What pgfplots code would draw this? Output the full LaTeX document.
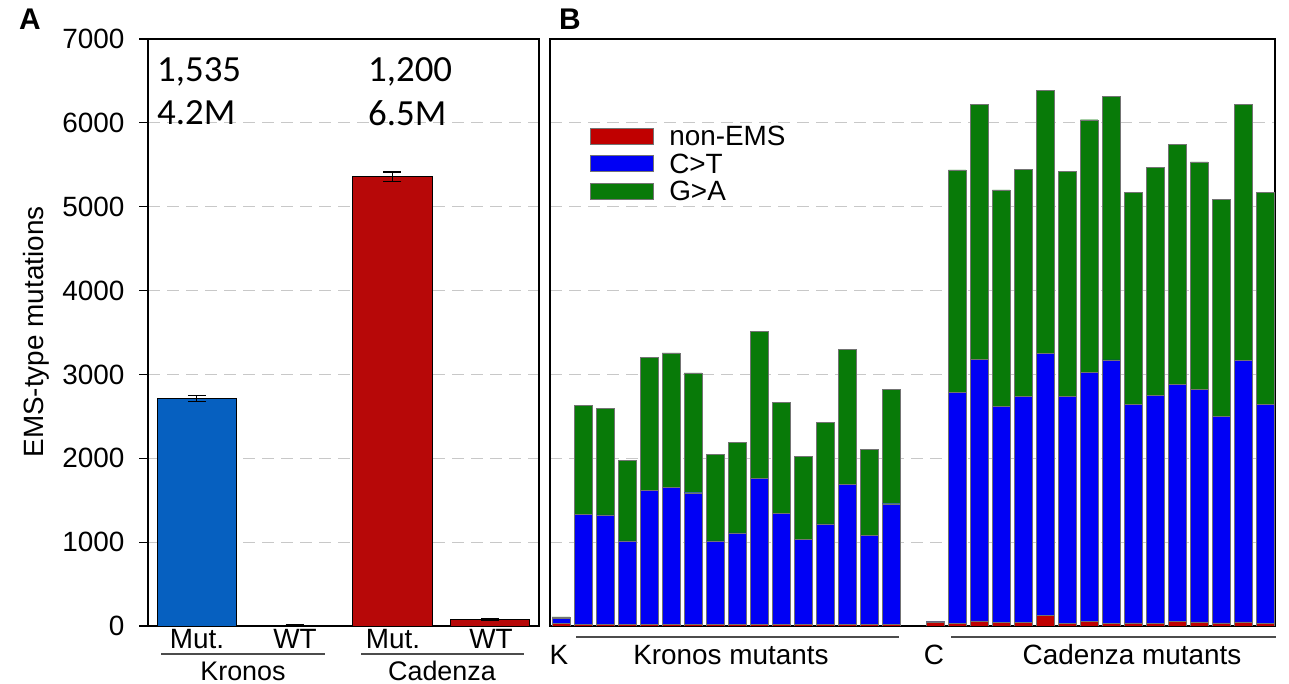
\documentclass[border=0pt]{standalone}
\usepackage{fontspec}
\setmainfont{Liberation Sans}
\newfontfamily\calib{Carlito}
\usepackage{pgfplots}
\pgfplotsset{compat=1.18}
\usepackage{pgfplotstable}

\definecolor{kblue}{RGB}{6,96,192}
\definecolor{cred}{RGB}{183,8,8}
\definecolor{bred}{RGB}{192,0,0}
\definecolor{bblue}{RGB}{0,0,245}
\definecolor{bgreen}{RGB}{8,122,8}
\definecolor{gridgray}{RGB}{200,200,200}

\pgfplotstableread{
x nonems ct ga
0 30 57 23
1 20 1314 1294
2 20 1306 1271
3 20 996 959
4 20 1601 1581
5 20 1633 1605
6 20 1569 1430
7 20 996 1035
8 20 1091 1083
9 20 1740 1753
10 20 1326 1322
11 20 1015 984
12 20 1199 1210
13 20 1673 1604
14 20 1059 1028
15 20 1438 1362
17 40 10 6
18 28 2759 2653
19 60 3118 3043
20 40 2580 2581
21 40 2696 2708
22 123 3127 3134
23 28 2708 2685
24 52 2971 3014
25 28 3146 3146
26 36 2604 2530
27 28 2720 2724
28 52 2827 2868
29 48 2772 2715
30 36 2461 2589
31 48 3118 3055
32 28 2612 2533
}\panelB

\pgfplotsset{
  ebar/.style={error bars/.cd, y dir=both, y explicit,
    error bar style={line width=1.2bp, black},
    error mark options={rotate=90, mark size=9bp, line width=1.2bp, black}},
}

\begin{document}
\begin{tikzpicture}[x=1bp,y=1bp]
\path[use as bounding box] (0,0) rectangle (1289,684);

\begin{axis}[
  at={(148bp,58bp)}, anchor=south west,
  scale only axis, width=391bp, height=587bp,
  xmin=-0.5, xmax=3.5, ymin=0, ymax=7000,
  xtick=\empty,
  ytick={0,1000,2000,3000,4000,5000,6000,7000},
  yticklabels={0,1000,2000,3000,4000,5000,6000,7000},
  ytick pos=left, tick align=outside, major tick length=9bp,
  ymajorgrids,
  major grid style={dash pattern=on 12bp off 7bp, gridgray, line width=1.2bp},
  axis line style={line width=1.5bp},
  tick style={line width=1.2bp, black},
  yticklabel style={font=\fontsize{28}{32}\selectfont, xshift=-11bp},
  clip=false,
]
\addplot[ybar, bar width=0.81, bar shift=0pt, fill=kblue, draw=black, line width=0.8bp, ebar]
  coordinates {(0,2712) +- (0,35)};
\addplot[ybar, bar width=0.81, bar shift=0pt, fill=black, draw=black, line width=0.8bp, ebar]
  coordinates {(1,12) +- (0,5)};
\addplot[ybar, bar width=0.81, bar shift=0pt, fill=cred, draw=black, line width=0.8bp, ebar]
  coordinates {(2,5360) +- (0,55)};
\addplot[ybar, bar width=0.81, bar shift=0pt, fill=cred, draw=black, line width=0.8bp, ebar]
  coordinates {(3,78) +- (0,12)};
\end{axis}

\begin{axis}[
  at={(550bp,58bp)}, anchor=south west,
  scale only axis, width=725bp, height=587bp,
  xmin=-0.5, xmax=32.45, ymin=0, ymax=7000,
  ybar stacked, bar width=0.8,
  xtick=\empty,
  ytick={1000,2000,3000,4000,5000,6000},
  yticklabels={},
  major tick length=0pt,
  ymajorgrids,
  major grid style={dash pattern=on 12bp off 7bp, gridgray, line width=1.2bp},
  axis line style={line width=1.5bp},
  legend style={draw=none, fill=none, at={(0.055,0.852)}, anchor=north west,
    inner sep=0pt, outer sep=0pt,
    font=\fontsize{28}{30}\selectfont, row sep=7.5bp,
    nodes={inner sep=0pt, text height=20bp, text depth=0bp, anchor=west}},
  legend cell align=left,
  legend image code/.code={\fill[#1] (0bp,-8bp) rectangle (63bp,8bp);},
]
\addplot[fill=bred, draw=black!55, line width=0.4bp] table[x=x, y=nonems] {\panelB};
\addlegendentry{\hspace{16bp}non-EMS}
\addplot[fill=bblue, draw=black!55, line width=0.4bp] table[x=x, y=ct] {\panelB};
\addlegendentry{\hspace{16bp}C>T}
\addplot[fill=bgreen, draw=black!55, line width=0.4bp] table[x=x, y=ga] {\panelB};
\addlegendentry{\hspace{16bp}G>A}
\end{axis}

% panel letters
\node[font=\bfseries\fontsize{30}{34}\selectfont] at (30,665) {A};
\node[font=\bfseries\fontsize{30}{34}\selectfont] at (570,665) {B};

% y label
\node[rotate=90, font=\fontsize{28}{32}\selectfont] at (36,352) {EMS-type mutations};

% annotations panel A
\node[anchor=west, inner sep=0pt, font=\calib\fontsize{37}{42}\selectfont] at (157,612) {1,535};
\node[anchor=west, inner sep=0pt, font=\calib\fontsize{37}{42}\selectfont] at (157,571) {4.2M};
\node[anchor=west, inner sep=0pt, font=\calib\fontsize{37}{42}\selectfont] at (368,612) {1,200};
\node[anchor=west, inner sep=0pt, font=\calib\fontsize{37}{42}\selectfont] at (368,571) {6.5M};

% category labels
\begin{scope}[every node/.style={font=\fontsize{28}{32}\selectfont, inner sep=0pt}]
\node at (197,45) {Mut.};
\node at (295,45) {WT};
\node at (393,45) {Mut.};
\node at (491,45) {WT};
\node[font=\fontsize{27}{30}\selectfont] at (243,13) {Kronos};
\node[font=\fontsize{27}{30}\selectfont] at (442,13) {Cadenza};
\node at (559,29) {K};
\node at (731,29) {Kronos mutants};
\node at (934,29) {C};
\node at (1132,29) {Cadenza mutants};
\end{scope}
\draw[line width=1.5bp, black!70] (161,30) -- (325,30);
\draw[line width=1.5bp, black!70] (361,30) -- (524,30);
\draw[line width=1.5bp, black!70] (576,47) -- (899,47);
\draw[line width=1.5bp, black!70] (951,47) -- (1276,47);
\end{tikzpicture}
\end{document}
